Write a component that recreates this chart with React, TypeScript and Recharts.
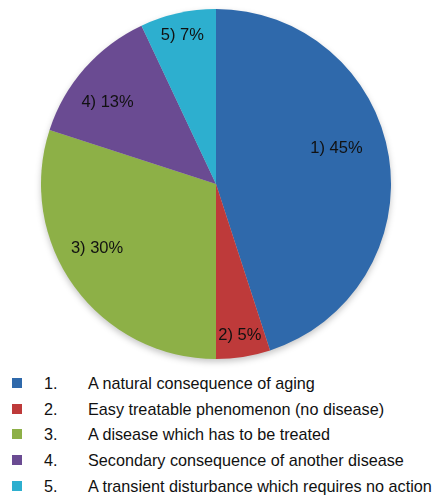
import { PieChart, Pie, Cell } from "recharts"

const categories = ["1", "2", "3", "4", "5"]
const shares = [45, 5, 30, 13, 7]
const descriptions = [
  "A natural consequence of aging",
  "Easy treatable phenomenon (no disease)",
  "A disease which has to be treated",
  "Secondary consequence of another disease",
  "A transient disturbance which requires no action",
]

const colors = ["#2F69AB", "#BE3A3A", "#8DB047", "#6A4B92", "#2DAFCF"]
// label placement tweaks relative to slice middle (degrees, fraction of radius)
const labelShift = [8, 0, -8, 4, 0]
const labelRadius = [0.72, 0.87, 0.77, 0.78, 0.88]

const data = categories.map((c, i) => ({ name: c, value: shares[i] }))

const RAD = Math.PI / 180
const font = "'Liberation Sans', Arial, sans-serif"

function renderLabel(props: any) {
  const { cx, cy, midAngle, outerRadius, index, value, name } = props
  const a = (midAngle + labelShift[index]) * RAD
  const r = outerRadius * labelRadius[index]
  const x = cx + r * Math.cos(a)
  const y = cy - r * Math.sin(a)
  return (
    <text x={x} y={y} textAnchor="middle" dominantBaseline="central" fill="#111" fontSize={16.5} fontFamily={font}>
      {`${name}) ${value}%`}
    </text>
  )
}

export default function App() {
  return (
    <div style={{ position: "absolute", top: 0, left: 0, width: 438, height: 504, background: "#fff", fontFamily: font }}>
      <div style={{ filter: "drop-shadow(0px 3px 3px rgba(0,0,0,0.22))" }}>
        <PieChart width={438} height={370} margin={{ top: 0, right: 0, bottom: 0, left: 0 }}>
          <Pie
            data={data}
            dataKey="value"
            nameKey="name"
            cx={216}
            cy={184}
            outerRadius={175}
            startAngle={90}
            endAngle={-270}
            stroke="none"
            label={renderLabel}
            labelLine={false}
            isAnimationActive={false}
          >
            {data.map((d, i) => (
              <Cell key={d.name} fill={colors[i]} />
            ))}
          </Pie>
        </PieChart>
      </div>
      <div style={{ position: "absolute", top: 371, left: 0 }}>
        {categories.map((c, i) => (
          <div key={c} style={{ position: "relative", height: 25.7, width: 438, fontSize: 16.2, color: "#111", lineHeight: "25.7px" }}>
            <span style={{ position: "absolute", left: 12, top: 7, width: 10, height: 10, background: colors[i] }} />
            <span style={{ position: "absolute", left: 44 }}>{c}.</span>
            <span style={{ position: "absolute", left: 88, whiteSpace: "nowrap" }}>{descriptions[i]}</span>
          </div>
        ))}
      </div>
    </div>
  )
}
